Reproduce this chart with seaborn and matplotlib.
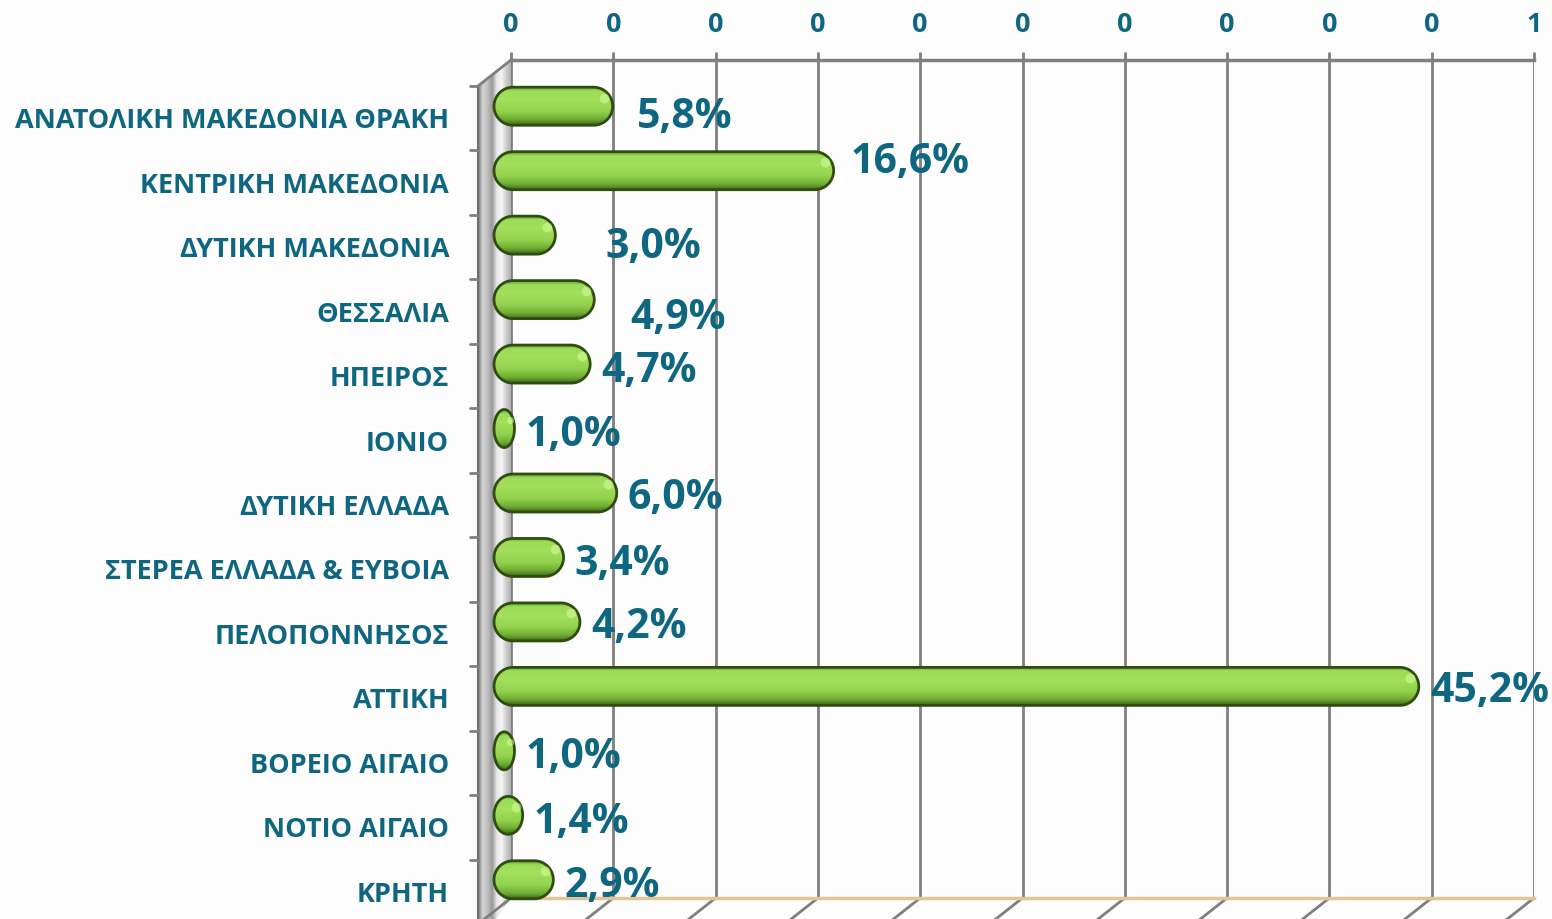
import numpy as np
import pandas as pd
import matplotlib
matplotlib.use("Agg")
import matplotlib.pyplot as plt
import matplotlib.transforms as mtransforms
from matplotlib.colors import LinearSegmentedColormap
from matplotlib.patches import Polygon
from matplotlib.image import BboxImage
from matplotlib.transforms import Bbox
import seaborn as sns

regions = ["ΑΝΑΤΟΛΙΚΗ ΜΑΚΕΔΟΝΙΑ ΘΡΑΚΗ", "ΚΕΝΤΡΙΚΗ ΜΑΚΕΔΟΝΙΑ", "ΔΥΤΙΚΗ ΜΑΚΕΔΟΝΙΑ",
           "ΘΕΣΣΑΛΙΑ", "ΗΠΕΙΡΟΣ", "ΙΟΝΙΟ", "ΔΥΤΙΚΗ ΕΛΛΑΔΑ", "ΣΤΕΡΕΑ ΕΛΛΑΔΑ & ΕΥΒΟΙΑ",
           "ΠΕΛΟΠΟΝΝΗΣΟΣ", "ΑΤΤΙΚΗ", "ΒΟΡΕΙΟ ΑΙΓΑΙΟ", "ΝΟΤΙΟ ΑΙΓΑΙΟ", "ΚΡΗΤΗ"]
shares = [0.058, 0.166, 0.030, 0.049, 0.047, 0.010, 0.060, 0.034, 0.042,
          0.452, 0.010, 0.014, 0.029]
x_ticks = [0.0, 0.05, 0.10, 0.15, 0.20, 0.25, 0.30, 0.35, 0.40, 0.45, 0.50]
x_tick_labels = ["0", "0", "0", "0", "0", "0", "0", "0", "0", "0", "1"]

# manual nudges of the value labels (pixels right, pixels down), as in the original
label_nudges = [(13, 5), (6, -14), (39, 6), (25, 13), (0, 1), (0, 1), (0, 0),
                (0, 1), (0, 0), (0, -1), (0, 1), (0, 1), (0, 1)]

TEXT = "#0e6680"
GRID = "#7f7f7f"
FONT = ["Open Sans", "DejaVu Sans"]
DPI = 100
W, H = 1552, 919
DEPTH = (-33, 26)      # back wall -> front plane, px (right, down)
BAR_SHIFT = (-17, 14)  # back wall -> bar plane, px

sns.set_style("white")
plt.rcParams["font.family"] = FONT

fig = plt.figure(figsize=(W / DPI, H / DPI), dpi=DPI)
fig.patch.set_facecolor("#fdfdfd")
ax = fig.add_axes([511 / W, 1 - 898 / H, (1534 - 511) / W, (898 - 60) / H])
ax.set_facecolor("none")
ax.set_zorder(2)

df = pd.DataFrame({"region": regions, "share": shares})
sns.barplot(data=df, x="share", y="region", orient="h", width=0.59,
            color="#8fd14f", ax=ax)
ax.set_xlim(0, 0.5)
ax.set_ylim(len(regions) - 0.5, -0.5)


def shifted(dx, dy, base=None):
    base = ax.transData if base is None else base
    return base + mtransforms.ScaledTranslation(dx / DPI, -dy / DPI, fig.dpi_scale_trans)


# pixels per data unit
p0 = ax.transData.transform((0, 0))
p1 = ax.transData.transform((1, 1))
px_x = p1[0] - p0[0]
px_y = abs(p1[1] - p0[1])

# left wall (gradient strip between back wall and front plane)
wall_cmap = LinearSegmentedColormap.from_list(
    "wall", ["#7a7a7a", "#d4d4d4", "#c0c0c0", "#9a9a9a", "#e6e6e6",
             "#f4f4f4", "#d0d0d0", "#b0b0b0"])
x_back = ax.transAxes.transform((0, 1))
x_front = x_back + np.array([DEPTH[0], -DEPTH[1]])
bot_back = ax.transAxes.transform((0, 0))
bot_front = bot_back + np.array([DEPTH[0], -DEPTH[1] - 20])
wall = Polygon([x_front, x_back, bot_back, bot_front], closed=True,
               transform=None, facecolor="none", edgecolor="none")
wbox = Bbox.from_extents(x_front[0], bot_front[1], x_back[0], x_back[1])
bimg = BboxImage(wbox, cmap=wall_cmap, interpolation="bilinear", zorder=1)
bimg.set_data(np.linspace(0, 1, 64)[None, :].repeat(2, axis=0))
bimg.set_clip_path(wall)
fig.add_artist(bimg)
fig.add_artist(plt.Line2D([x_front[0], x_back[0]], [x_front[1], x_back[1]],
                          transform=None, color=GRID, lw=2, zorder=1))
fig.add_artist(plt.Line2D([x_front[0], bot_front[0]], [x_front[1], bot_front[1]],
                          transform=None, color="#6e6e6e", lw=1.5, zorder=1))

# front-plane category ticks
for k in range(len(regions) + 1):
    ax.plot([-0.004, 0], [k - 0.5, k - 0.5], color=GRID, lw=2,
            transform=shifted(*DEPTH), clip_on=False, zorder=2)

# floor diagonals under each gridline
for t in x_ticks:
    b = ax.transData.transform((t, len(regions) - 0.5))
    fig.add_artist(plt.Line2D([b[0], b[0] + DEPTH[0]], [b[1], b[1] - DEPTH[1]],
                              transform=None, color=GRID, lw=2, zorder=1))

# pill-shaped gradient bars
bar_cmap = LinearSegmentedColormap.from_list(
    "bar", [(0.0, "#5d9a26"), (0.12, "#9cdc58"), (0.35, "#a3e05c"),
            (0.65, "#92d24c"), (0.85, "#72ae36"), (1.0, "#3f6d17")])
bar_tr = shifted(*BAR_SHIFT)
bars = list(ax.patches)
for rect, val, (nx, ny) in zip(bars, shares, label_nudges):
    x0, y0 = rect.get_x(), rect.get_y()
    w, h = rect.get_width(), rect.get_height()
    rect.remove()
    x1, yc = x0 + w, y0 + h / 2
    r_px = min(h * px_y / 2, w * px_x / 2)
    rx, ry = r_px / px_x, h / 2
    th_l = np.linspace(np.pi / 2, 3 * np.pi / 2, 40)
    th_r = np.linspace(-np.pi / 2, np.pi / 2, 40)
    pts = np.concatenate([
        np.column_stack([x0 + rx + rx * np.cos(th_l), yc - ry * np.sin(th_l)]),
        np.column_stack([x1 - rx + rx * np.cos(th_r), yc - ry * np.sin(th_r)]),
    ])
    pill = Polygon(pts, closed=True, transform=bar_tr, facecolor="none",
                   edgecolor="#2f4d12", lw=2, zorder=5, clip_on=False)
    ax.add_patch(pill)
    im = ax.imshow(np.linspace(0, 1, 64)[:, None], cmap=bar_cmap, aspect="auto",
                   extent=(x0, x1, y0 + h, y0), origin="upper",
                   interpolation="bilinear", zorder=4, transform=bar_tr)
    im.set_clip_box(fig.bbox)
    im.set_clip_path(pill)
    # specular spot near the right cap
    ax.plot([x1 - rx * 0.45], [yc - ry * 0.45], marker="o", ms=min(7, r_px * 0.5),
            color="#d8ff9a", alpha=0.55, mec="none", transform=bar_tr,
            clip_on=False, zorder=6)
    txt = f"{val * 100:.1f}%".replace(".", ",")
    ax.text(x1, yc, txt, transform=shifted(BAR_SHIFT[0] + 11 + nx, BAR_SHIFT[1] + 6 + ny),
            ha="left", va="center", fontsize=29.5, fontweight="bold", color=TEXT,
            family=FONT, clip_on=False, zorder=7)

ax.set_xlim(0, 0.5)
ax.set_ylim(len(regions) - 0.5, -0.5)

# axes styling
ax.xaxis.tick_top()
ax.set_xticks(x_ticks, labels=x_tick_labels)
ax.tick_params(axis="x", top=True, length=6, width=2, color=GRID, pad=10,
               labelsize=19.5, labelcolor=TEXT)
for lbl in ax.get_xticklabels():
    lbl.set_fontweight("bold")
ax.grid(axis="x", color=GRID, lw=2, zorder=0)
ax.grid(axis="y", visible=False)
ax.set_axisbelow(True)
ax.set_xlabel("")
ax.set_ylabel("")
ax.set_yticks(range(len(regions)), labels=regions)
ax.tick_params(axis="y", left=False, pad=41, labelsize=19.5, labelcolor=TEXT)
y_off = mtransforms.ScaledTranslation(0, -DEPTH[1] / DPI, fig.dpi_scale_trans)
for lbl in ax.get_yticklabels():
    lbl.set_fontweight("bold")
    lbl.set_transform(lbl.get_transform() + y_off)
for side in ["right", "left"]:
    ax.spines[side].set_visible(False)
ax.spines["top"].set_color(GRID)
ax.spines["top"].set_linewidth(2.5)
ax.spines["bottom"].set_color("#e2c496")
ax.spines["bottom"].set_linewidth(2.5)

fig.savefig("out.png", dpi=DPI)
